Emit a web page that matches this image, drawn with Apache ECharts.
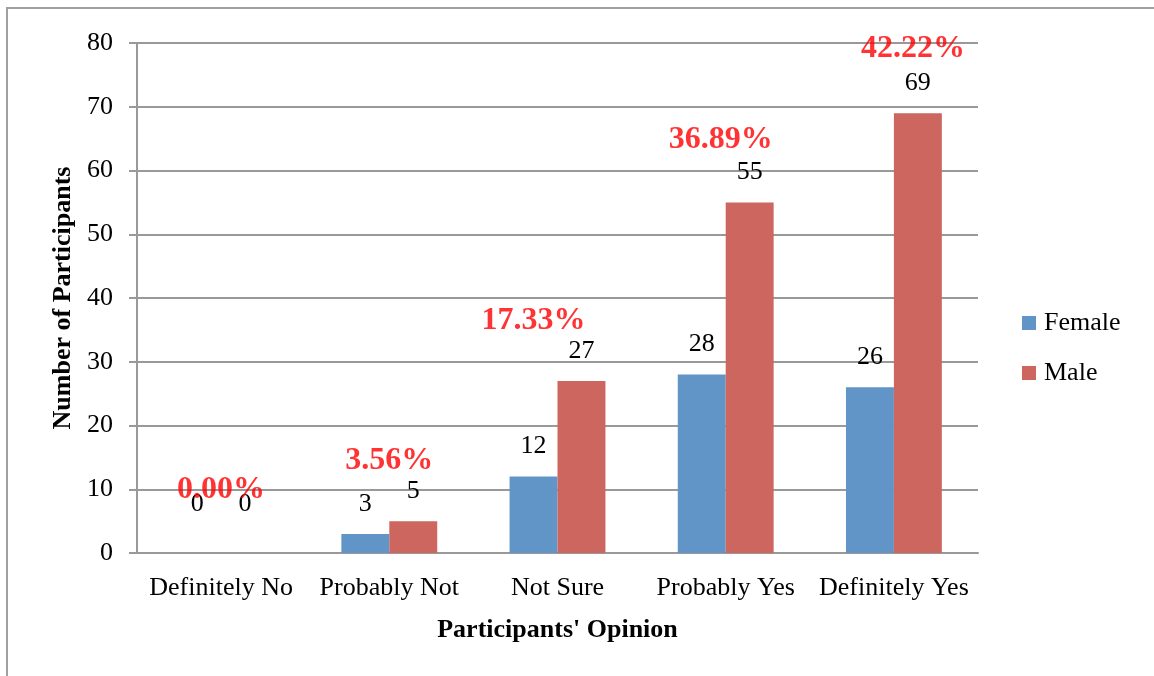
<!DOCTYPE html>
<html>
<head>
<meta charset="utf-8">
<script src="https://cdn.jsdelivr.net/npm/echarts@6/dist/echarts.min.js"></script>
<style>html,body{margin:0;padding:0;background:#fff;}#chart{width:1154px;height:676px;}</style>
</head>
<body>
<div id="chart"></div>
<script>
const categories = ['Definitely No', 'Probably Not', 'Not Sure', 'Probably Yes', 'Definitely Yes'];
const female = [0, 3, 12, 28, 26];
const male = [0, 5, 27, 55, 69];
const percentLabels = ['0.00%', '3.56%', '17.33%', '36.89%', '42.22%'];
const yTicks = { min: 0, max: 80, interval: 10 };

const FONT = "'Liberation Serif', 'Times New Roman', serif";
// label layout tweaks (style only)
const pctShiftX = [0, 0, -24, -5, 19];
const pctShiftY = [-3, 0, 0, -3, -4];

const chart = echarts.init(document.getElementById('chart'), null, { renderer: 'canvas' });

function valueData(arr) {
  return arr.map(v => ({
    value: v,
    label: { distance: v === 0 ? 36 : 17 }
  }));
}

const pctData = categories.map((c, i) => ({
  value: [c, Math.max(female[i], male[i])],
  label: { formatter: percentLabels[i], offset: [pctShiftX[i], pctShiftY[i]] }
}));

chart.setOption({
  animation: false,
  backgroundColor: '#fff',
  graphic: [
    { type: 'polyline', shape: { points: [[7, 676], [7, 8], [1154, 8]] },
      style: { stroke: '#a0a0a0', lineWidth: 2, fill: null } }
  ],
  grid: { left: 137, top: 43, right: 176, bottom: 123, containLabel: false },
  legend: {
    orient: 'vertical',
    left: 1017,
    top: 305,
    itemWidth: 14,
    itemHeight: 14,
    itemGap: 24,
    icon: 'rect',
    data: ['Female', 'Male'],
    textStyle: { fontFamily: FONT, fontSize: 26, color: '#000', lineHeight: 26, padding: [0, 0, 0, 3] }
  },
  xAxis: {
    type: 'category',
    data: categories,
    name: "Participants' Opinion",
    nameLocation: 'middle',
    nameGap: 64,
    nameTextStyle: { fontFamily: FONT, fontSize: 26, fontWeight: 'bold', color: '#000' },
    axisLine: { lineStyle: { color: '#999', width: 2 } },
    axisTick: { show: false },
    axisLabel: { fontFamily: FONT, fontSize: 26, color: '#000', margin: 22, interval: 0 }
  },
  yAxis: {
    type: 'value',
    min: yTicks.min,
    max: yTicks.max,
    interval: yTicks.interval,
    name: 'Number of Participants',
    nameLocation: 'middle',
    nameGap: 61,
    nameTextStyle: { fontFamily: FONT, fontSize: 26, fontWeight: 'bold', color: '#000' },
    axisLine: { show: true, lineStyle: { color: '#999', width: 2 } },
    axisTick: { show: true, inside: false, length: 8, lineStyle: { color: '#999', width: 2 } },
    splitLine: { lineStyle: { color: '#999', width: 2 } },
    axisLabel: { fontFamily: FONT, fontSize: 26, color: '#000', margin: 24 }
  },
  series: [
    {
      name: 'Female',
      type: 'bar',
      data: valueData(female),
      barGap: '0%',
      barCategoryGap: '43%',
      itemStyle: { color: '#6195C8' },
      label: { show: true, position: 'top', fontFamily: FONT, fontSize: 26, color: '#000' }
    },
    {
      name: 'Male',
      type: 'bar',
      data: valueData(male),
      barGap: '0%',
      barCategoryGap: '43%',
      itemStyle: { color: '#CC665E' },
      label: { show: true, position: 'top', fontFamily: FONT, fontSize: 26, color: '#000' }
    },
    {
      name: 'Percent',
      type: 'scatter',
      symbolSize: 0,
      data: pctData,
      silent: true,
      z: 5,
      label: {
        show: true, position: 'top', distance: 44,
        fontFamily: FONT, fontSize: 32, fontWeight: 'bold', color: '#FF0000'
      }
    }
  ]
});
</script>
</body>
</html>
